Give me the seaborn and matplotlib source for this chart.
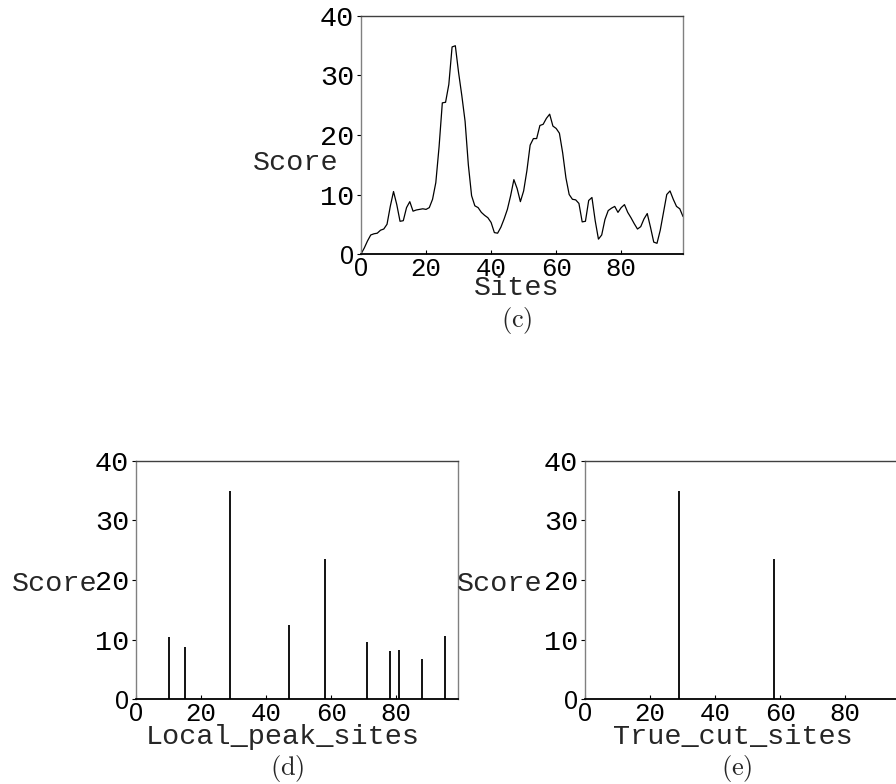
import matplotlib
matplotlib.use('Agg')
import matplotlib.pyplot as plt
import pandas as pd
import seaborn as sns

# Score at each site
sites = list(range(100))
score = [0.0, 1.0, 2.2, 3.2, 3.4, 3.5, 4.0, 4.2, 5.0, 8.0,
         10.5, 8.3, 5.5, 5.6, 7.8, 8.8, 7.2, 7.4, 7.5, 7.6,
         7.5, 7.8, 9.2, 12.0, 18.0, 25.4, 25.5, 28.5, 34.8, 35.0,
         30.5, 26.6, 22.3, 15.0, 9.8, 8.1, 7.8, 7.0, 6.5, 6.1,
         5.3, 3.6, 3.5, 4.5, 5.9, 7.5, 9.8, 12.5, 11.0, 8.8,
         10.6, 14.0, 18.3, 19.4, 19.4, 21.6, 21.8, 22.8, 23.5, 21.5,
         21.1, 20.3, 17.0, 12.8, 10.0, 9.2, 9.1, 8.5, 5.4, 5.5,
         9.0, 9.5, 5.6, 2.5, 3.2, 5.8, 7.3, 7.7, 8.0, 7.0,
         7.8, 8.3, 7.0, 6.1, 5.1, 4.2, 4.6, 5.9, 6.8, 4.5,
         2.0, 1.8, 4.0, 7.0, 10.0, 10.6, 9.2, 8.0, 7.6, 6.3]
peak_sites = [10, 15, 29, 47, 58, 71, 78, 81, 88, 95]
cut_sites = [29, 58]

xticks = [0, 20, 40, 60, 80]
yticks = [0, 10, 20, 30, 40]

df = pd.DataFrame({'site': sites, 'score': score})

sns.set_style('white')
plt.rcParams['font.family'] = ['Liberation Mono', 'DejaVu Sans Mono']
plt.rcParams['font.size'] = 20.5
plt.rcParams['mathtext.fontset'] = 'cm'


def style_axes(ax, xlabel, caption, ylab_xy, xlab_xy, cap_xy):
    ax.set_xlim(0, 99)
    ax.set_ylim(0, 40)
    ax.set_xticks(xticks)
    ax.set_yticks(yticks)
    ax.set_xticklabels([str(t) for t in xticks], fontsize=18.5)
    ax.set_yticklabels([str(t) for t in yticks], fontsize=20.5)
    # the zero labels are drawn in a sans face in the original
    x0 = ax.get_xticklabels()[0]
    x0.set_fontfamily('Liberation Sans')
    x0.set_fontsize(18)
    y0 = ax.get_yticklabels()[0]
    y0.set_fontfamily('Liberation Sans')
    y0.set_fontsize(18)
    ax.tick_params(axis='x', bottom=True, direction='in', length=3,
                   width=0.8, pad=2, colors='black')
    ax.tick_params(axis='y', left=True, direction='out', length=3,
                   width=0.8, pad=2, colors='black')
    for side, col in [('left', '#808080'), ('right', '#808080'),
                      ('top', '#404040'), ('bottom', 'black')]:
        ax.spines[side].set_visible(True)
        ax.spines[side].set_color(col)
        ax.spines[side].set_linewidth(1.0)
    ax.spines['bottom'].set_linewidth(1.3)
    ax.set_ylabel('Score', rotation=0, ha='center', va='center')
    ax.yaxis.set_label_coords(*ylab_xy)
    ax.set_xlabel(xlabel, va='center')
    ax.xaxis.set_label_coords(*xlab_xy)
    ax.text(cap_xy[0], cap_xy[1], caption, transform=ax.transAxes,
            ha='center', va='center', fontsize=19)


fig = plt.figure(figsize=(8.96, 7.84), dpi=100)

# (c) score profile
axc = fig.add_axes([0.4029, 0.676, 0.3594, 0.3036])
sns.lineplot(data=df, x='site', y='score', ax=axc, color='black', lw=0.9)
style_axes(axc, 'Sites', r'$(\mathrm{c})$', (-0.203, 0.383), (0.483, -0.143), (0.483, -0.279))

# (d) local peaks
axd = fig.add_axes([0.1518, 0.1084, 0.3594, 0.3036])
axd.vlines(peak_sites, 0, [score[s] for s in peak_sites], color='black', lw=1.3)
style_axes(axd, 'Local_peak_sites', r'$(\mathrm{d})$', (-0.2516, 0.485), (0.455, -0.158), (0.469, -0.292))

# (e) true cut sites
axe = fig.add_axes([0.6529, 0.1084, 0.3594, 0.3036])
axe.vlines(cut_sites, 0, [score[s] for s in cut_sites], color='black', lw=1.3)
style_axes(axe, 'True_cut_sites', r'$(\mathrm{e})$', (-0.264, 0.485), (0.458, -0.158), (0.471, -0.292))

fig.savefig('out.png', dpi=100)
